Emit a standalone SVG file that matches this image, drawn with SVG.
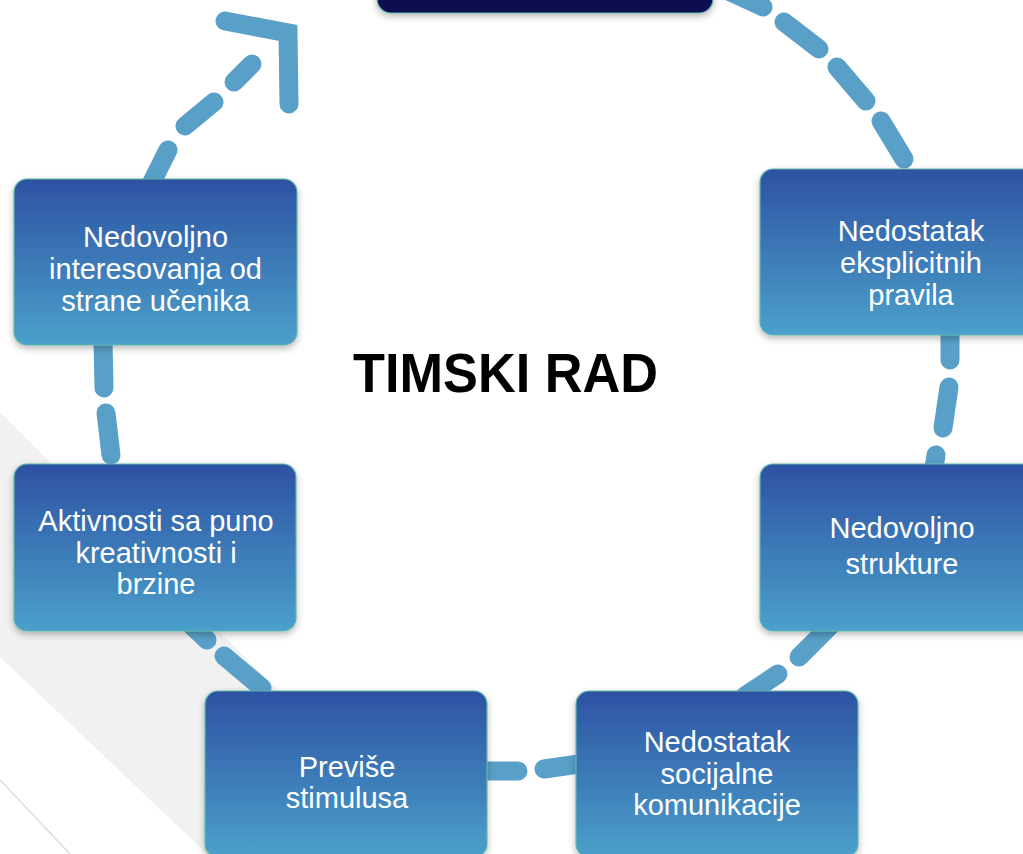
<svg xmlns="http://www.w3.org/2000/svg" width="1023" height="854" viewBox="0 0 1023 854">
  <defs>
    <linearGradient id="boxGrad" x1="0" y1="0" x2="0" y2="1">
      <stop offset="0" stop-color="#2D52A3"/>
      <stop offset="1" stop-color="#4BA0CB"/>
    </linearGradient>
    <filter id="shadow" x="-10%" y="-10%" width="120%" height="125%">
      <feDropShadow dx="0" dy="3" stdDeviation="3.5" flood-color="#000" flood-opacity="0.28"/>
    </filter>
    <style>
      .box { fill: url(#boxGrad); stroke: #5FB8AA; stroke-width: 1.2; filter: url(#shadow); }
      .top { fill: #0F0850; stroke: #5FB8AA; stroke-width: 1.2; filter: url(#shadow); }
      .lbl { font-family: "Liberation Sans", Arial, sans-serif; font-size: 29px; fill: #FFFFFF; text-anchor: middle; }
      .title { font-family: "Liberation Sans", Arial, sans-serif; font-size: 55px; font-weight: bold; fill: #000000; text-anchor: middle; }
      .dash { fill: none; stroke: #58A0C8; stroke-width: 19; stroke-linecap: round; stroke-linejoin: round; }
      .arrow { fill: none; stroke: #58A0C8; stroke-width: 19; stroke-linecap: round; stroke-linejoin: miter; stroke-miterlimit: 10; }
    </style>
  </defs>

  <rect x="0" y="0" width="1023" height="854" fill="#FFFFFF"/>
  <g id="background">
    <polygon points="0,412 442,854 207,854 0,657" fill="#F1F1F1"/>
    <line x1="0" y1="780" x2="70" y2="854" stroke="#D6D6D6" stroke-width="1.2"/>
  </g>

  <g id="connectors">
    <path id="c1" class="dash" d="M722 -12 L763 7 M784 22 L819 49 M837 67 L866 101 M881 121 L904 159"/>
    <path id="c2" class="dash" d="M950 330 L950 360 M949 387 L943 428 M936 455 L933 475"/>
    <path id="c3" class="dash" d="M832 624 L799 657 M778 674 L745 696"/>
    <path id="c4" class="dash" d="M478 771 L518 771 M544 769 L586 763"/>
    <path id="c5" class="dash" d="M186 620 L207 640 M224 656 L262 688"/>
    <path id="c6" class="dash" d="M103 340 L104 388 M106 413 L111 455"/>
    <path id="c7" class="dash" d="M150 186 L168 150 M185 126 L214 102 M234 82 L252 64"/>
    <path id="c7-head" class="arrow" d="M225 21 L288 33 L289 104"/>
  </g>

  <g id="node-top">
    <rect class="top" x="377" y="-153" width="336" height="166" rx="14"/>
  </g>

  <g id="node-pravila">
    <rect class="box" x="760" y="169" width="300" height="166" rx="13"/>
    <text class="lbl" x="911" y="241">Nedostatak</text>
    <text class="lbl" x="911" y="273">eksplicitnih</text>
    <text class="lbl" x="911" y="305">pravila</text>
  </g>

  <g id="node-struktura">
    <rect class="box" x="760" y="464" width="284" height="167" rx="13"/>
    <text class="lbl" x="902" y="538">Nedovoljno</text>
    <text class="lbl" x="902" y="574">strukture</text>
  </g>

  <g id="node-komunikacija">
    <rect class="box" x="576" y="691" width="282" height="166" rx="13"/>
    <text class="lbl" x="717" y="752">Nedostatak</text>
    <text class="lbl" x="717" y="784">socijalne</text>
    <text class="lbl" x="717" y="815">komunikacije</text>
  </g>

  <g id="node-stimulusi">
    <rect class="box" x="205" y="691" width="282" height="166" rx="13"/>
    <text class="lbl" x="347" y="777">Previše</text>
    <text class="lbl" x="347" y="808">stimulusa</text>
  </g>

  <g id="node-aktivnosti">
    <rect class="box" x="14" y="464" width="282" height="167" rx="13"/>
    <text class="lbl" x="156" y="531">Aktivnosti sa puno</text>
    <text class="lbl" x="156" y="563">kreativnosti i</text>
    <text class="lbl" x="156" y="594">brzine</text>
  </g>

  <g id="node-interes">
    <rect class="box" x="14" y="179" width="283" height="166" rx="13"/>
    <text class="lbl" x="155.5" y="247">Nedovoljno</text>
    <text class="lbl" x="155.5" y="279">interesovanja od</text>
    <text class="lbl" x="155.5" y="311">strane učenika</text>
  </g>

  <g id="title">
    <text class="title" x="505.5" y="392" textLength="305" lengthAdjust="spacingAndGlyphs">TIMSKI RAD</text>
  </g>
</svg>
